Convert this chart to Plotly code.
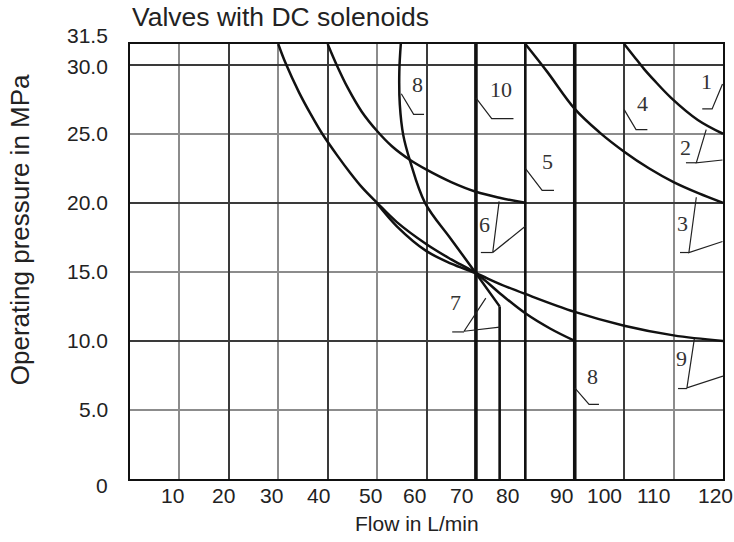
import plotly.graph_objects as go

# ---------------- data (flow in L/min, pressure in MPa) ----------------
# characteristic curves
curve1_q = [100, 102, 104, 106, 109.5, 114.9, 120]
curve1_p = [31.5, 30.6, 29.7, 28.9, 27.6, 26.0, 25.0]

curve3_q = [80, 84.4, 90, 95, 100, 105, 110, 115, 120]
curve3_p = [31.5, 29.5, 26.8, 25.1, 23.7, 22.5, 21.5, 20.7, 20.0]

curve6_q = [40, 41.8, 44.1, 46.9, 50, 53, 56.7, 60, 65, 70, 75, 80]
curve6_p = [31.5, 30.0, 28.3, 26.6, 25.2, 24.1, 23.1, 22.4, 21.5, 20.8, 20.35, 20.0]

curve8_q = [30, 31.5, 34.2, 36.6, 38.9, 42, 44.5, 47, 50, 54, 60, 65, 70, 75, 80, 85, 90]
curve8_p = [31.5, 30.1, 28.0, 26.4, 25.0, 23.4, 22.2, 21.1, 20.0, 18.6, 17.0, 15.9, 14.9, 13.4, 12.0, 10.9, 10.0]

curve9_q = [50, 54, 60, 65, 70, 75, 80, 90, 100, 110, 120]
curve9_p = [19.95, 18.3, 16.5, 15.6, 14.9, 14.1, 13.4, 12.1, 11.1, 10.4, 10.0]

curve7_q = [54.8, 54.5, 54.6, 55.3, 56.7, 59.7, 64.9, 70, 74.8]
curve7_p = [31.5, 29.5, 27.1, 24.9, 23.0, 20.0, 17.4, 14.9, 12.5]
curve7_drop_q = [74.8, 74.8]
curve7_drop_p = [12.5, 0]

# vertical flow limits (full pressure range)
limit_q = [70, 80, 90]
limit_pmax = 31.5

# curve labels and their leader lines
label_text = ["1", "2", "3", "4", "5", "6", "7", "8", "8", "9", "10"]
label_q = [116.6, 112.5, 111.9, 103.7, 84.4, 71.7, 65.9, 58.1, 93.6, 111.6, 75.1]
label_p = [28.8, 24.0, 18.5, 27.2, 23.0, 18.4, 12.8, 28.6, 7.45, 8.7, 28.2]

leader_q = [
    [119.9, 117.8, 115.8],
    [116.6, 114.6, 119.9, None, 112.5, 114.6],
    [114.6, 113.1, 119.9, None, 111.3, 113.1],
    [100, 102.4, 104.7],
    [80, 83.4, 85.8],
    [74.7, 73.4, 80, None, 71.0, 73.4],
    [72.0, 67.6, 74.8, None, 65.2, 67.6],
    [54.9, 57.4, 59.5],
    [90, 92.9, 94.9],
    [114.2, 112.7, 120, None, 110.9, 112.7],
    [70, 73.2, 77.6],
]
leader_p = [
    [28.6, 26.8, 26.8],
    [25.3, 22.9, 23.1, None, 22.9, 22.9],
    [20.4, 16.4, 17.2, None, 16.4, 16.4],
    [26.75, 25.3, 25.3],
    [22.5, 20.9, 20.9],
    [20.1, 16.4, 18.3, None, 16.4, 16.4],
    [13.1, 10.7, 11.0, None, 10.65, 10.65],
    [27.9, 26.4, 26.4],
    [6.6, 5.4, 5.4],
    [10.15, 6.6, 7.45, None, 6.55, 6.55],
    [27.6, 26.1, 26.1],
]

# axis tick labels
x_tick_text = ["10", "20", "30", "40", "50", "60", "70", "80", "90", "100", "110", "120"]
x_tick_pos = [8.7, 19.0, 28.6, 38.1, 48.6, 57.5, 67.0, 76.4, 87.3, 96.0, 105.9, 118.4]
y_tick_vals = [0, 5, 10, 15, 20, 25, 30, 31.5]
y_tick_text = ["0", "5.0", "10.0", "15.0", "20.0", "25.0", "30.0", "31.5"]
y_tick_shift = [-6, 0, 0, 0, 0, 0, -2, 9]

title_text = "Valves with DC solenoids"
x_title = "Flow in L/min"
y_title = "Operating pressure in MPa"

# ---------------- figure ----------------
INK = "#111111"
SANS = "Liberation Sans, Arial, sans-serif"
SERIF = "Liberation Serif, Times New Roman, serif"

fig = go.Figure()


def add_line(q, p, width, shape="spline", color=INK):
    fig.add_trace(go.Scatter(x=q, y=p, mode="lines",
                             line=dict(color=color, width=width, shape=shape),
                             hoverinfo="skip", showlegend=False))


for q in limit_q:
    add_line([q, q], [0, limit_pmax], 3.6 if q != 80 else 2.6, shape="linear")

add_line(curve1_q, curve1_p, 2.5)
add_line(curve3_q, curve3_p, 2.5)
add_line(curve6_q, curve6_p, 2.5)
add_line(curve8_q, curve8_p, 2.5)
add_line(curve9_q, curve9_p, 2.5)
add_line(curve7_q, curve7_p, 2.5)
add_line(curve7_drop_q, curve7_drop_p, 2.6, shape="linear")

for lq, lp in zip(leader_q, leader_p):
    add_line(lq, lp, 1.2, shape="linear", color="#222222")

annotations = []
for t, q, p in zip(label_text, label_q, label_p):
    annotations.append(dict(x=q, y=p, xref="x", yref="y", text=t, showarrow=False,
                            font=dict(family=SERIF, size=22, color="#333333")))

for t, q in zip(x_tick_text, x_tick_pos):
    annotations.append(dict(x=q, y=0, xref="x", yref="y", text=t, showarrow=False,
                            yanchor="middle", yshift=-16,
                            font=dict(family=SANS, size=21, color="#222222")))

for v, t, s in zip(y_tick_vals, y_tick_text, y_tick_shift):
    annotations.append(dict(x=0, y=v, xref="paper", yref="y", text=t, showarrow=False,
                            xanchor="right", yanchor="middle", xshift=-20, yshift=s,
                            font=dict(family=SANS, size=21, color="#222222")))

annotations.append(dict(x=0, y=1, xref="paper", yref="paper", text=title_text,
                        showarrow=False, xanchor="left", yanchor="middle", yshift=27,
                        font=dict(family=SANS, size=26.5, color="#222222")))
annotations.append(dict(x=0.484, y=0, xref="paper", yref="paper", text=x_title,
                        showarrow=False, xanchor="center", yanchor="middle", yshift=-44,
                        font=dict(family=SANS, size=21, color="#222222")))
annotations.append(dict(x=0, y=0.572, xref="paper", yref="paper", text=y_title,
                        showarrow=False, textangle=-90, xanchor="center", yanchor="middle",
                        xshift=-110, font=dict(family=SANS, size=26, color="#222222")))

fig.update_layout(
    width=734, height=542,
    margin=dict(l=130, r=9, t=44, b=63),
    paper_bgcolor="white", plot_bgcolor="white",
    showlegend=False,
    annotations=annotations,
    xaxis=dict(range=[0, 120], tick0=0, dtick=20, showgrid=True,
               gridcolor="#3a3a3a", gridwidth=1.6, showticklabels=False, ticks="",
               zeroline=False, showline=True, linecolor=INK, linewidth=2, mirror=True,
               minor=dict(tick0=0, dtick=10, showgrid=True, gridcolor="#8c8c8c", gridwidth=2.2)),
    yaxis=dict(range=[0, 31.5], tick0=0, dtick=10, showgrid=True,
               gridcolor="#3a3a3a", gridwidth=1.6, showticklabels=False, ticks="",
               zeroline=False, showline=True, linecolor=INK, linewidth=2, mirror=True,
               minor=dict(tick0=0, dtick=5, showgrid=True, gridcolor="#8c8c8c", gridwidth=2.2)),
)

# remove the browser's default 8px page margin so the figure fills the window
fig.write_html("out.html", config={"displayModeBar": False},
               post_script="document.body.style.margin='0px';")
